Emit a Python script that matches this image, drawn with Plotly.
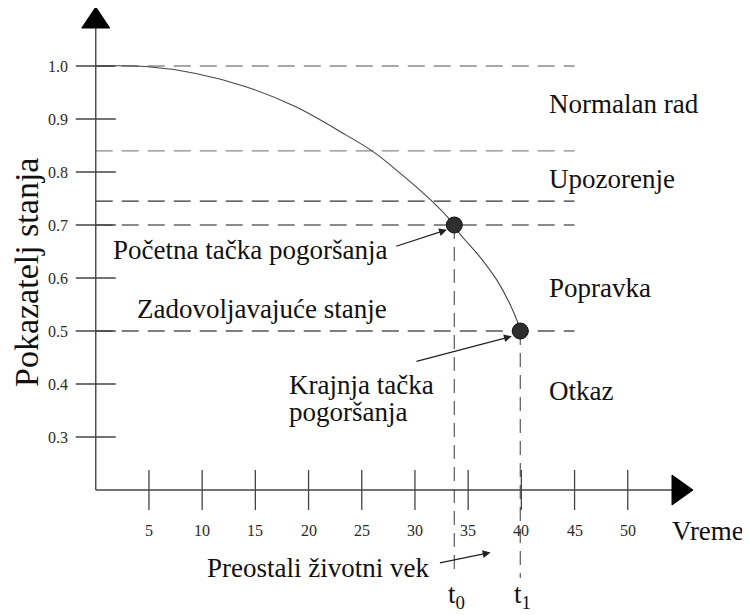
import plotly.graph_objects as go

# ---------------- data ----------------
curve_x = [0, 4.7, 9.4, 14.1, 18.8, 23.5, 26.1, 28.6, 31.6, 33.7, 34.2, 36.1, 37.7, 38.9, 39.7, 39.9]
curve_y = [1.0, 0.999, 0.986, 0.961, 0.923, 0.870, 0.838, 0.798, 0.745, 0.700, 0.684, 0.640, 0.596, 0.552, 0.514, 0.500]

levels = [1.0, 0.84, 0.745, 0.7, 0.5]
level_colors = ["#8a8a8a", "#8a8a8a", "#333333", "#666666", "#555555"]
level_end = 45

points_x = [33.7, 39.9]
points_y = [0.7, 0.5]
point_names = ["t<sub>0</sub>", "t<sub>1</sub>"]

x_ticks = [5, 10, 15, 20, 25, 30, 35, 40, 45, 50]
y_ticks = [0.3, 0.4, 0.5, 0.6, 0.7, 0.8, 0.9, 1.0]
y_tick_labels = ["0.3", "0.4", "0.5", "0.6", "0.7", "0.8", "0.9", "1.0"]
x_origin, y_origin = 0, 0.2

zone_labels = ["Normalan rad", "Upozorenje", "Popravka", "Otkaz"]
zone_label_y = [0.928, 0.787, 0.581, 0.387]

# ---------------- pixel scale ----------------
# the page body has an 8px margin, so the figure is 8px smaller and everything shifted
OFF = 8
W, H = 750 - OFF, 615 - OFF
PXX = 10.64          # pixels per x unit
PXY = 530.0          # pixels per y unit
X0 = -(95.76 - OFF) / PXX
X1 = X0 + W / PXX
Y1 = 1.0 + (66 - OFF) / PXY
Y0 = Y1 - H / PXY

def dx(p):  # pixel length -> x units
    return p / PXX

def dy(p):
    return p / PXY

FONT = "Liberation Serif"
fig = go.Figure()

# dashed level lines
for lv, c in zip(levels, level_colors):
    fig.add_shape(type="line", x0=x_origin, x1=level_end, y0=lv, y1=lv, xref="x", yref="y",
                  line=dict(color=c, width=1.3, dash="17px,9px"), layer="below")

# vertical dashed lines at t0, t1
for px_, py_, drop in zip(points_x, points_y, [27, 33]):
    fig.add_shape(type="line", x0=px_, x1=px_, y0=py_, y1=y_origin - dy(drop + 55), xref="x", yref="y",
                  line=dict(color="#666666", width=1.3, dash="14px,8px"), layer="below")

# axes lines
axis_top = 1.0 + dy(66 - 28)
axis_right = 0 + dx(672 - 95.76)
fig.add_shape(type="line", x0=x_origin, x1=x_origin, y0=y_origin, y1=axis_top,
              line=dict(color="#444444", width=1.4))
fig.add_shape(type="line", x0=x_origin, x1=axis_right, y0=y_origin, y1=y_origin,
              line=dict(color="#444444", width=1.4))
# arrow heads
fig.add_shape(type="path",
              path=f"M {x_origin - dx(14)} {axis_top} L {x_origin + dx(14)} {axis_top} L {x_origin} {axis_top + dy(21)} Z",
              fillcolor="black", line=dict(color="black", width=1))
fig.add_shape(type="path",
              path=f"M {axis_right} {y_origin + dy(15)} L {axis_right} {y_origin - dy(15)} L {axis_right + dx(21)} {y_origin} Z",
              fillcolor="black", line=dict(color="black", width=1))

# tick marks (cross the axis)
tx, ty = [], []
for t in x_ticks:
    tx += [t, t, None]
    ty += [y_origin - dy(20), y_origin + dy(20), None]
for t in y_ticks:
    tx += [x_origin - dx(20), x_origin + dx(20), None]
    ty += [t, t, None]
fig.add_trace(go.Scatter(x=tx, y=ty, mode="lines", line=dict(color="#444444", width=1.3),
                         hoverinfo="skip", showlegend=False))

# curve
fig.add_trace(go.Scatter(x=curve_x, y=curve_y, mode="lines", line=dict(color="#444444", width=1.1, shape="spline"),
                         showlegend=False))

# points
fig.add_trace(go.Scatter(x=points_x, y=points_y, mode="markers",
                         marker=dict(size=16, color="#2e2e2e", line=dict(color="#111111", width=1)),
                         showlegend=False))

ann = []
# tick labels
tick_font = dict(family=FONT, size=16, color="#2a2a2a")
for t, lab in zip(y_ticks, y_tick_labels):
    ann.append(dict(x=x_origin - dx(26), y=t, text=lab, xanchor="right", yanchor="middle", showarrow=False,
                    font=tick_font))
for t in x_ticks:
    ann.append(dict(x=t, y=y_origin - dy(40), text=str(t), xanchor="center", yanchor="middle", showarrow=False,
                    font=tick_font))

big = dict(family=FONT, size=27, color="#111111")
for lab, yy in zip(zone_labels, zone_label_y):
    ann.append(dict(x=42.4, y=yy, text=lab, xanchor="left", yanchor="middle", showarrow=False, font=big))

ann.append(dict(x=1.4, y=0.653, text="Početna tačka pogoršanja", xanchor="left", yanchor="middle",
                showarrow=False, font=big))
ann.append(dict(x=3.7, y=0.5415, text="Zadovoljavajuće stanje", xanchor="left", yanchor="middle",
                showarrow=False, font=big))
ann.append(dict(x=18.0, y=0.398, text="Krajnja tačka", xanchor="left", yanchor="middle",
                showarrow=False, font=big))
ann.append(dict(x=18.0, y=0.347, text="pogoršanja", xanchor="left", yanchor="middle",
                showarrow=False, font=big))
ann.append(dict(x=10.3, y=0.053, text="Preostali životni vek", xanchor="left", yanchor="middle",
                showarrow=False, font=big))
ann.append(dict(x=53.95, y=0.1226, text="Vreme", xanchor="left", yanchor="middle", showarrow=False, font=big))
for px_, nm in zip(points_x, point_names):
    ann.append(dict(x=px_ + 0.2, y=0.0, text=nm, xanchor="center", yanchor="middle", showarrow=False, font=big))

ann.append(dict(x=dx(26 - 95.76), y=1.0 - dy(273 - 66), text="Pokazatelj stanja", textangle=-90, xanchor="center",
                yanchor="middle", showarrow=False, font=dict(family=FONT, size=34, color="#111111")))

# pointer arrows
arrows = [((28.1, 0.659), (33.0, 0.691)),
          ((30.0, 0.442), (39.1, 0.490)),
          ((32.2, 0.062), (37.1, 0.082))]
for (x0_, y0_), (x1_, y1_) in arrows:
    ann.append(dict(x=x1_, y=y1_, ax=x0_, ay=y0_, xref="x", yref="y", axref="x", ayref="y", text="",
                    showarrow=True, arrowhead=2, arrowsize=1.3, arrowwidth=1.2, arrowcolor="#222222",
                    standoff=0))

fig.update_layout(
    width=W, height=H, margin=dict(l=0, r=0, t=0, b=0),
    paper_bgcolor="white", plot_bgcolor="white",
    xaxis=dict(range=[X0, X1], visible=False, fixedrange=True),
    yaxis=dict(range=[Y0, Y1], visible=False, fixedrange=True),
    annotations=ann, showlegend=False,
)
fig.write_html("out.html")
